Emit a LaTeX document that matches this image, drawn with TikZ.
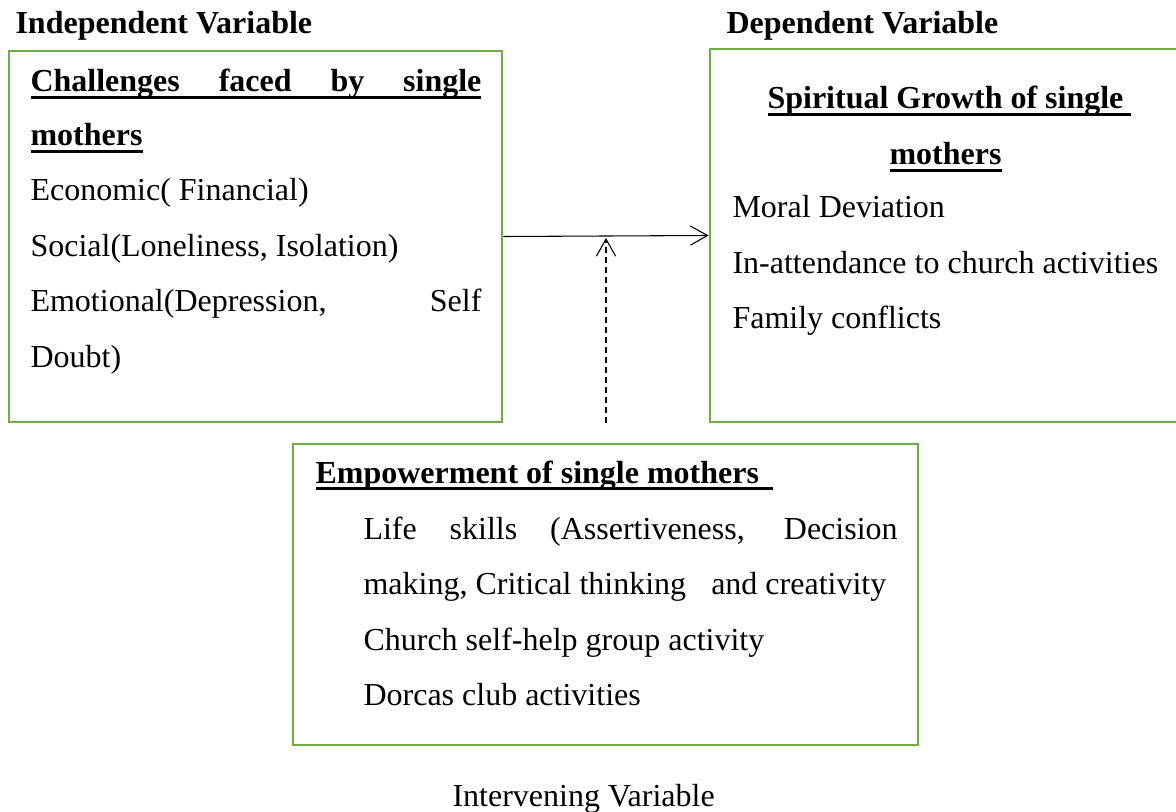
\documentclass[tikz,border=0pt]{standalone}
\usepackage{fontspec}
\setmainfont{Liberation Serif}
\usetikzlibrary{fit,arrows.meta}
\definecolor{boxgreen}{RGB}{112,173,71}
\newcommand{\thickul}[1]{\setbox0\hbox{#1}\rlap{\rule[-2.6pt]{\wd0}{1.2pt}}\box0}

\begin{document}
\begin{tikzpicture}[x=0.375pt,y=-0.375pt,
  every node/.style={font=\fontsize{12pt}{14pt}\selectfont, inner sep=0pt},
  varbox/.style={draw=boxgreen, line width=1.1pt},
  txt/.style={anchor=base west},
  conn/.style={-{Straight Barb[length=6.4pt,width=7.2pt]}, line width=0.4pt}]
  \useasboundingbox (0,0) rectangle (1176,812);

  \node[txt, font=\fontsize{12pt}{14pt}\selectfont\bfseries] (indep) at (15,34) {Independent Variable};
  \node[txt, font=\fontsize{12pt}{14pt}\selectfont\bfseries] (dep) at (726,34) {Dependent Variable};

  \node[varbox, fit={(9,51) (502,422)}] (chal) {};
  \node[txt] (chal1) at (30,92) {\thickul{\makebox[169.1pt][s]{\bfseries Challenges faced by single}}};
  \node[txt] (chal2) at (30,146) {\thickul{\bfseries mothers}};
  \node[txt] (chal3) at (30,201) {Economic( Financial)};
  \node[txt] (chal4) at (30,257) {Social(Loneliness, Isolation)};
  \node[txt] (chal5) at (30,312) {\makebox[169.1pt][s]{Emotional(Depression, Self}};
  \node[txt] (chal6) at (30,367) {Doubt)};

  \node[varbox, fit={(710,49) (1190,422)}] (growth) {};
  \node[txt] (growth1) at (767,109) {\thickul{\bfseries Spiritual Growth of single\ }};
  \node[txt] (growth2) at (889,165) {\thickul{\bfseries mothers}};
  \node[txt] (growth3) at (732,218) {Moral Deviation};
  \node[txt] (growth4) at (732,273) {In-attendance to church activities};
  \node[txt] (growth5) at (732,328) {Family conflicts};

  \node[varbox, fit={(293,444) (918,745)}] (empow) {};
  \node[txt] (empow1) at (315,483) {\thickul{\makebox[171.4pt][l]{\bfseries Empowerment of single mothers}}};
  \node[txt] (empow2) at (363,539) {\makebox[200.3pt][s]{Life skills (Assertiveness, Decision}};
  \node[txt] (empow3) at (363,594) {making, Critical thinking\hspace{6.4pt} and creativity};
  \node[txt] (empow4) at (363,650) {Church self-help group activity};
  \node[txt] (empow5) at (363,705) {Dorcas club activities};

  \node[txt] (interv) at (452,806) {Intervening Variable};

  \draw[conn] (chal.east) -- (growth.west);
  \coordinate (foot) at (606,423);
  \coordinate (head) at (606,238);
  \draw[conn, dash pattern=on 2.25pt off 1.5pt] (foot) -- (head);
\end{tikzpicture}
\end{document}
